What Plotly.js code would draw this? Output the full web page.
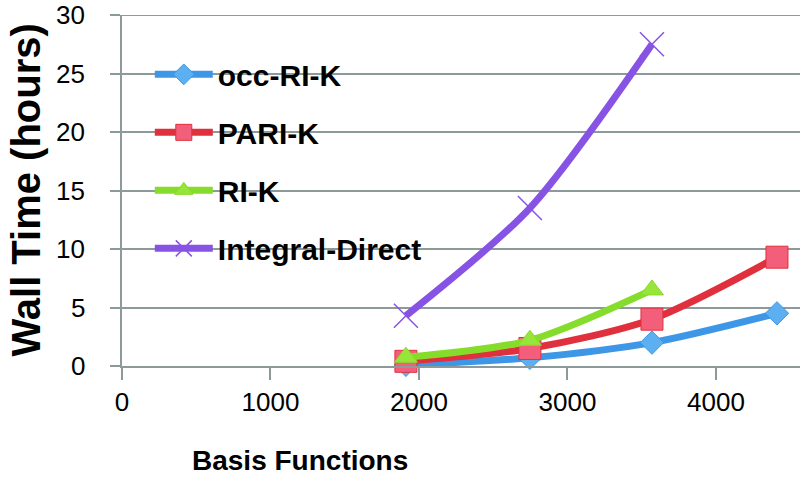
<!DOCTYPE html>
<html>
<head>
<meta charset="utf-8">
<script src="https://cdn.plot.ly/plotly-3.0.1.min.js"></script>
<style>
  html, body { margin: 0; padding: 0; background: #fff; }
  #chart { width: 808px; height: 488px; }
</style>
</head>
<body>
<div id="chart"></div>
<script>
// basis functions for each run
const basisOcc = [1912, 2747, 3569, 4411];
const basisPari = [1912, 2747, 3569, 4411];
const basisRi = [1912, 2747, 3569];
const basisDirect = [1912, 2747, 3569];

// wall time in hours
const occRiK = [0.1, 0.7, 2.0, 4.5];
const pariK = [0.4, 1.5, 4.0, 9.3];
const riK = [0.75, 2.2, 6.5];
const integralDirect = [4.3, 13.5, 27.5];

const seriesNames = ['occ-RI-K', 'PARI-K', 'RI-K', 'Integral-Direct'];
const xTicks = [0, 1000, 2000, 3000, 4000];
const yTicks = [0, 5, 10, 15, 20, 25, 30];

const chart = document.getElementById('chart');
const gridColor = '#8d9a9a';
const plotWidth = 808 - 122 - 8;

function makeTrace(x, y, name, group, lineColor, marker) {
  return {
    x: x,
    y: y,
    name: name,
    legendgroup: group,
    type: 'scatter',
    mode: 'lines+markers',
    line: { color: lineColor, width: 7, shape: 'spline', smoothing: 0.8 },
    marker: marker,
    cliponaxis: false
  };
}

const data = [
  makeTrace(basisOcc, occRiK, seriesNames[0], 'a', '#3d97e6',
    { symbol: 'diamond', size: 18, color: '#5cb0f2', line: { color: '#3d97e6', width: 1 } }),
  makeTrace(basisPari, pariK, seriesNames[1], 'b', '#e0303e',
    { symbol: 'square', size: 22, color: '#f35f7a', line: { color: '#e0303e', width: 1 } }),
  makeTrace(basisRi, riK, seriesNames[2], 'c', '#86dc2a',
    { symbol: 'triangle-up', size: 20, color: '#97e43a', line: { color: '#86dc2a', width: 1 } }),
  makeTrace(basisDirect, integralDirect, seriesNames[3], 'd', '#8753e4',
    { symbol: 'x-thin', size: 24, color: '#8753e4', line: { color: '#8753e4', width: 1.5 } })
];

const topY = yTicks[yTicks.length - 1];

// y tick labels as annotations so they sit a bit further from the axis
const yLabelNotes = yTicks.map(v => ({
  text: String(v),
  xref: 'paper',
  yref: 'y',
  x: -35 / plotWidth,
  y: v,
  xanchor: 'right',
  yanchor: 'middle',
  showarrow: false,
  font: { size: 26, color: '#000000' }
}));

const layout = {
  width: 808,
  height: 488,
  margin: { l: 122, r: 8, t: 15, b: 122 },
  paper_bgcolor: '#ffffff',
  plot_bgcolor: '#ffffff',
  font: { family: 'Liberation Sans, Arial, sans-serif', color: '#000000' },
  showlegend: true,
  legend: {
    x: 0.041,
    y: 0.905,
    xanchor: 'left',
    yanchor: 'top',
    bgcolor: 'rgba(0,0,0,0)',
    font: { size: 30, color: '#000000', weight: 'bold' },
    itemwidth: 58,
    tracegroupgap: 16
  },
  xaxis: {
    range: [0, 4566],
    tickvals: xTicks,
    showgrid: false,
    zeroline: false,
    showline: true,
    linecolor: gridColor,
    linewidth: 2,
    ticks: 'outside',
    ticklen: 12,
    tickwidth: 2,
    tickcolor: gridColor,
    tickfont: { size: 26, color: '#000000' }
  },
  yaxis: {
    range: [0, 30],
    tickvals: yTicks,
    showticklabels: false,
    showgrid: true,
    gridcolor: gridColor,
    gridwidth: 2,
    zeroline: false,
    showline: true,
    linecolor: gridColor,
    linewidth: 2,
    ticks: 'outside',
    ticklen: 10,
    tickwidth: 2,
    tickcolor: gridColor
  },
  shapes: [{
    // top gridline and tick at 30 h
    type: 'line',
    xref: 'paper',
    yref: 'y',
    x0: -10 / plotWidth,
    x1: 1,
    y0: topY,
    y1: topY,
    line: { color: gridColor, width: 2 },
    layer: 'below'
  }],
  annotations: yLabelNotes.concat([
    {
      text: 'Wall Time (hours)',
      xref: 'paper',
      yref: 'paper',
      x: -97 / plotWidth,
      y: 0.5,
      xanchor: 'center',
      yanchor: 'middle',
      textangle: -90,
      showarrow: false,
      font: { size: 40, weight: 'bold', color: '#000000' }
    },
    {
      text: 'Basis Functions',
      xref: 'paper',
      yref: 'paper',
      x: 0.2625,
      y: -0.27,
      xanchor: 'center',
      yanchor: 'middle',
      showarrow: false,
      font: { size: 28, weight: 'bold', color: '#000000' }
    }
  ])
};

Plotly.newPlot(chart, data, layout, { displayModeBar: false, staticPlot: true });
</script>
</body>
</html>
